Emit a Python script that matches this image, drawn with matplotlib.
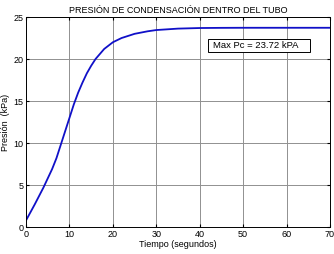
import matplotlib
matplotlib.use("Agg")
import matplotlib.pyplot as plt
from matplotlib.patches import Rectangle

# tiempo (s) y presion de condensacion (kPa)
tiempo = [0, 1, 2, 3, 4, 5, 6, 7, 8, 9, 10, 11, 12, 13, 14, 15, 16, 17, 18,
          20, 22, 25, 28, 30, 35, 40, 45, 50, 60, 70]
presion = [0.8, 1.75, 2.7, 3.7, 4.7, 5.8, 6.9, 8.2, 9.8, 11.4, 13.0, 14.6,
           16.0, 17.2, 18.3, 19.2, 20.0, 20.6, 21.2, 22.0, 22.5, 23.0, 23.3,
           23.45, 23.62, 23.69, 23.71, 23.72, 23.72, 23.72]
max_pc = 23.72

plt.rcParams['font.family'] = ['Liberation Sans', 'DejaVu Sans']

fig = plt.figure(figsize=(3.34, 2.54), dpi=100)
ax = fig.add_axes([0.078, 0.106, 0.91, 0.827])

ax.plot(tiempo, presion, color='#1010c8', linewidth=1.3)

ax.set_xlim(0, 70)
ax.set_ylim(0, 25)
ax.set_xticks(range(0, 71, 10))
ax.set_yticks(range(0, 26, 5))
ax.grid(True, color='#909090', linewidth=0.7)
ax.tick_params(direction='in', top=True, right=True, labelsize=6.5, length=2.5, pad=2)
for s in ax.spines.values():
    s.set_linewidth(0.7)

ax.set_title('PRESIÓN DE CONDENSACIÓN DENTRO DEL TUBO', fontsize=6.5, pad=3)
ax.set_xlabel('Tiempo (segundos)', fontsize=6.5, labelpad=1)
ax.set_ylabel('Presión  (kPa)', fontsize=6.5, labelpad=2)

# cuadro de anotacion
ax.add_patch(Rectangle((41.9, 20.8), 23.5, 1.6, facecolor='white',
                       edgecolor='black', linewidth=0.7, zorder=3))
ax.text(43.1, 21.6, 'Max Pc = %.2f kPA' % max_pc, fontsize=6.8,
        ha='left', va='center', zorder=4)

fig.savefig('out.png', dpi=100)
